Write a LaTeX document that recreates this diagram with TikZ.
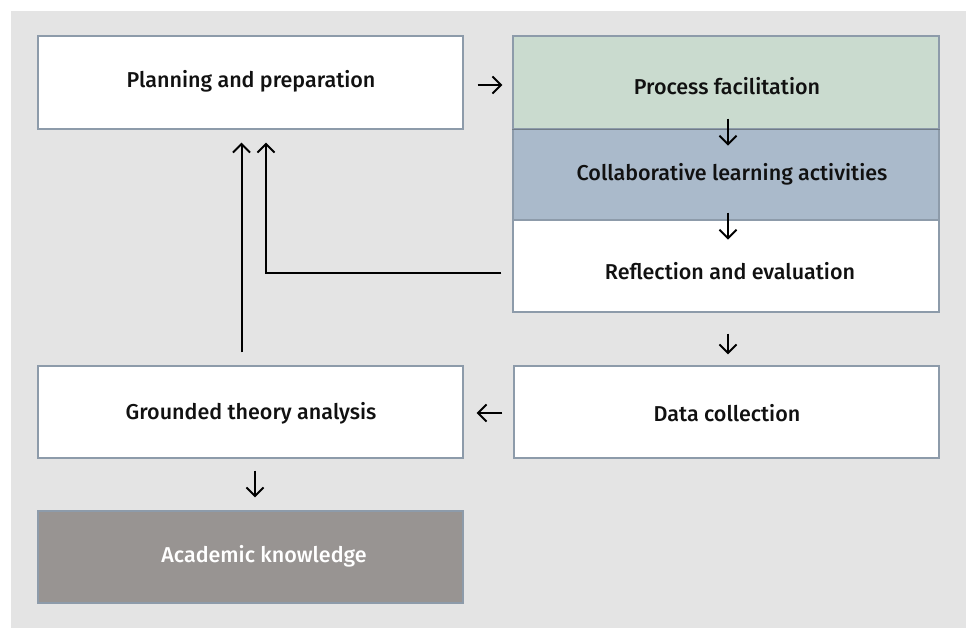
\documentclass[tikz,border=0pt]{standalone}
\usepackage{fontspec}
\setmainfont{Fira Sans}[UprightFont={* Medium}]
\usetikzlibrary{arrows.meta,calc}
\definecolor{bgc}{HTML}{E4E4E4}
\definecolor{bordc}{HTML}{8D9BAA}
\definecolor{greenc}{HTML}{CADBCF}
\definecolor{bluec}{HTML}{AABACB}
\definecolor{grayc}{HTML}{989492}
\definecolor{txtc}{HTML}{111111}
\tikzset{
  box/.style={draw=bordc, line width=1.2pt, minimum width=#1, inner sep=0pt},
  box/.default=425pt,
  lbl/.style={font=\fontsize{21.5}{24}\selectfont, text=txtc, inner sep=0pt},
  arr/.style={-{Straight Barb[length=8.5pt,width=17pt,line width=2pt]}, line width=2pt, black, line cap=butt}
}
\begin{document}
\begin{tikzpicture}[x=1pt,y=-1pt]
\useasboundingbox (0,0) rectangle (966,628);
\fill[white] (0,0) rectangle (966,628);
\fill[bgc] (11,11) rectangle (966,628);
% boxes
\node[box, fill=white, minimum height=93pt] (plan) at (250.5,82.5) {};
\node[box, fill=greenc, minimum width=426pt, minimum height=93pt] (proc) at (726,82.5) {};
\node[box, fill=bluec, minimum width=426pt, minimum height=91pt] (coll) at (726,174.5) {};
\node[box, fill=white, minimum width=426pt, minimum height=92pt] (refl) at (726,266) {};
\node[box, fill=white, minimum height=92pt] (grnd) at (250.5,412) {};
\node[box, fill=white, minimum width=425pt, minimum height=92pt] (data) at (726.5,412) {};
\node[box, fill=grayc, minimum height=92pt] (acad) at (250.5,557) {};
\draw[bordc!80!black, line width=1.6pt] (proc.south west) -- (proc.south east);
% texts
\node[lbl] (tplan) at (251,81) {Planning and preparation};
\node[lbl] (tproc) at (727,86) {Process facilitation};
\node[lbl] (tcoll) at (732,174) {Collaborative learning activities};
\node[lbl] (trefl) at (730,271) {Reflection and evaluation};
\node[lbl] (tgrnd) at (251,413) {Grounded theory analysis};
\node[lbl] (tdata) at (727,413) {Data collection};
\node[lbl, text=white] (tacad) at (264,556) {Academic knowledge};
% arrows
\draw[arr] ($(plan.east)+(14,2.5)$) -- ($(proc.west)+(-10,2.5)$);
\draw[arr] ($(proc.south)+(2,-11)$) -- ($(proc.south)+(2,16)$);
\draw[arr] ($(coll.south)+(2,-8)$) -- ($(coll.south)+(2,19)$);
\draw[arr] ($(refl.south)+(2,21)$) -- ($(data.north)+(1.5,-11)$);
\draw[arr] ($(data.west)+(-11,1)$) -- ($(grnd.east)+(13,1)$);
\draw[arr] ($(grnd.south)+(4.5,12)$) -- ($(acad.north)+(4.5,-13)$);
\draw[arr] ($(grnd.north)+(-9,-13)$) -- ($(plan.south)+(-9,13)$);
\draw[arr] ($(refl.west)+(-11,7)$) -| ($(plan.south)+(15.5,13)$);
\end{tikzpicture}
\end{document}
